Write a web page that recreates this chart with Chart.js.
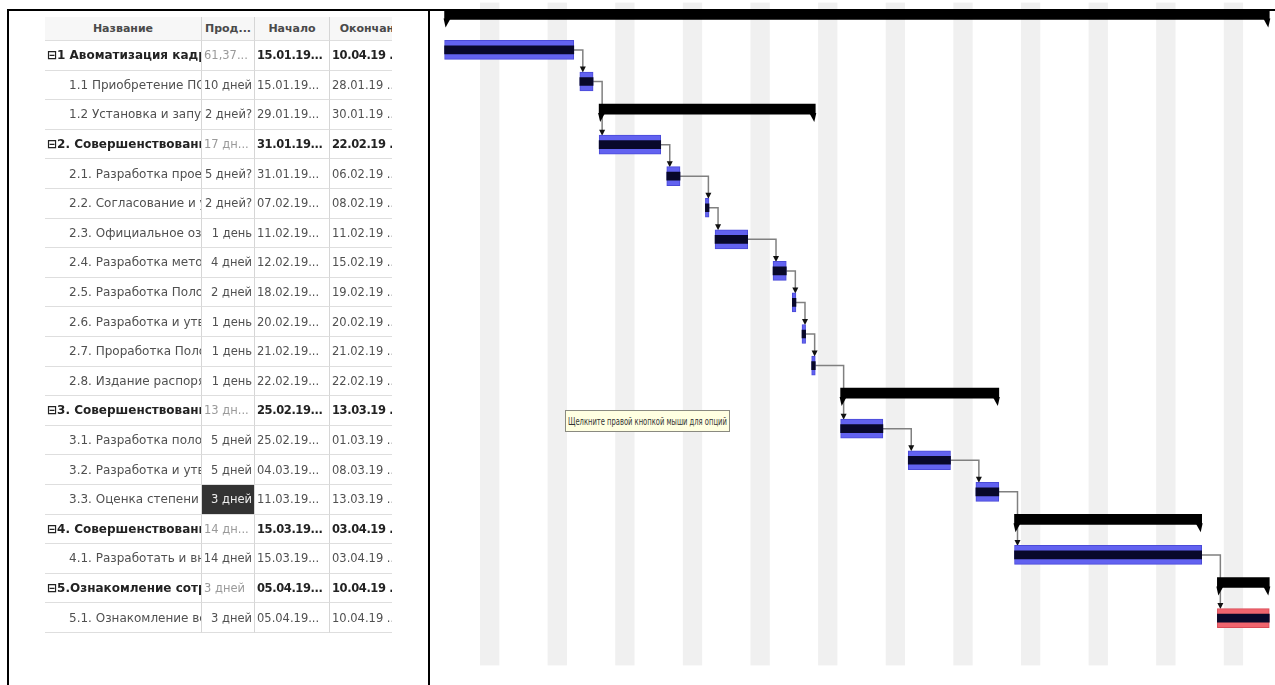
<!DOCTYPE html>
<html lang="ru">
<head>
<meta charset="utf-8">
<title>План работ</title>
<script src="https://cdn.jsdelivr.net/npm/chart.js@4.4.1/dist/chart.umd.min.js"></script>
<style>
  html, body { margin: 0; padding: 0; background: #fff; }
  body { width: 1275px; height: 685px; position: relative; overflow: hidden; font-family: "DejaVu Sans", sans-serif; }
  .rule { position: absolute; background: #000; z-index: 5; }
  #sheet {
    position: absolute; left: 45px; top: 17px; width: 347px; overflow: hidden;
    display: grid; grid-template-columns: 157px 53px 75px 90px;
    grid-template-rows: 24px repeat(20, 29.6px);
    font-size: 12px; color: #505050; filter: blur(0.35px);
  }
  #sheet div {
    box-sizing: border-box; white-space: nowrap; overflow: hidden;
    display: flex; align-items: center;
    border-bottom: 1px solid #dedede; border-right: 1px solid #d6d6d6;
    padding: 0 2px;
  }
  #sheet .head { font-weight: bold; font-size: 11px; color: #4a4a4a; justify-content: center; background: #f7f7f7; }
  #sheet .sum { font-weight: bold; color: #222; }
  #sheet .child { padding-left: 24px; }
  #sheet .num { font-size: 11.5px; }
  #sheet .num.sum { letter-spacing: -0.4px; }
  #sheet .dur { justify-content: flex-end; font-size: 11.5px; }
  #sheet .dur.sum { font-weight: normal; color: #9a9a9a; justify-content: flex-start; }
  #sheet .pick { background: #333; color: #eee; }
  #gantt { position: absolute; left: 430px; top: 0; width: 845px; height: 685px; }
  #hint {
    position: absolute; left: 565px; top: 410px; width: 165px; height: 22px; z-index: 4;
    background: #ffffe1; border: 1px solid #8a8a80; box-sizing: border-box;
    font-size: 10px; color: #333; white-space: nowrap; overflow: hidden;
    display: flex; align-items: center; padding-left: 2px;
  }
  #hint span { transform-origin: left center; display: inline-block; }
</style>
</head>
<body>
<div class="rule" style="left:7px; top:9px; width:1268px; height:2px;"></div>
<div class="rule" style="left:7px; top:9px; width:2px; height:676px;"></div>
<div class="rule" style="left:428px; top:9px; width:2px; height:676px;"></div>

<div id="sheet"></div>
<div id="gantt"><canvas id="ganttChart"></canvas></div>
<div id="hint"><span>Щелкните правой кнопкой мыши для опций</span></div>

<script>
// ===============================
// Task list
// ===============================

const columnTitles = ["Название", "Прод...", "Начало", "Окончание"];

const taskNames = [
  "1 Авоматизация кадрового учета",
  "1.1 Приобретение ПО \"1С:Зарплата\"",
  "1.2 Установка и запуск ПО",
  "2. Совершенствование документооборота",
  "2.1. Разработка проекта",
  "2.2. Согласование и утверждение",
  "2.3. Официальное ознакомление",
  "2.4. Разработка методики",
  "2.5. Разработка Положения",
  "2.6. Разработка и утверждение",
  "2.7. Проработка Положения",
  "2.8. Издание распоряжения",
  "3. Совершенствование системы оценки",
  "3.1. Разработка положения",
  "3.2. Разработка и утверждение",
  "3.3. Оценка степени",
  "4. Совершенствование обучения",
  "4.1. Разработать и внедрить",
  "5.Ознакомление  сотрудников",
  "5.1. Ознакомление всех",
];

const durations = [
  "61,37...", "10 дней", "2 дней?", "17 дн...", "5 дней?", "2 дней?", "1 день",
  "4 дней", "2 дней", "1 день", "1 день", "1 день", "13 дн...", "5 дней",
  "5 дней", "3 дней", "14 дн...", "14 дней", "3 дней", "3 дней",
];

const startDates = [
  "15.01.19", "15.01.19", "29.01.19", "31.01.19", "31.01.19", "07.02.19", "11.02.19",
  "12.02.19", "18.02.19", "20.02.19", "21.02.19", "22.02.19", "25.02.19", "25.02.19",
  "04.03.19", "11.03.19", "15.03.19", "15.03.19", "05.04.19", "05.04.19",
];

const endDates = [
  "10.04.19", "28.01.19", "30.01.19", "22.02.19", "06.02.19", "08.02.19", "11.02.19",
  "15.02.19", "19.02.19", "20.02.19", "21.02.19", "22.02.19", "13.03.19", "01.03.19",
  "08.03.19", "13.03.19", "03.04.19", "03.04.19", "10.04.19", "10.04.19",
];

// summary rows (phases)
const summaryRows = [0, 3, 12, 16, 18];

// finish-to-start links, by row
const links = [
  [1, 2], [2, 4], [4, 5], [5, 6], [6, 7], [7, 8], [8, 9], [9, 10], [10, 11],
  [11, 13], [13, 14], [14, 15], [15, 17], [17, 19],
];

const redRows = [19];
const pickedCell = 15; // selected duration cell

// ===============================
// Table
// ===============================

const sheet = document.getElementById("sheet");

function cell(text, cls) {
  const d = document.createElement("div");
  d.className = cls;
  d.textContent = text;
  sheet.appendChild(d);
}

columnTitles.forEach((t) => cell(t, "head"));

taskNames.forEach((name, i) => {
  const isSum = summaryRows.includes(i);
  const s = isSum ? " sum" : "";

  cell(isSum ? "⊟" + name : name, isSum ? "sum" : "child");
  cell(durations[i], "dur" + s + (i === pickedCell ? " pick" : ""));
  cell(startDates[i] + "...", "num" + s);
  cell(endDates[i] + " ...", "num" + s);
});

// squeeze hint text into its box
const hintSpan = document.querySelector("#hint span");
hintSpan.style.transform = `scaleX(${159 / hintSpan.offsetWidth})`;

// ===============================
// Gantt chart
// ===============================

const ORIGIN = Date.UTC(2019, 0, 14); // Monday
const WORK_START = 8 / 24;
const WORK_END = 17 / 24;
const VIEW_DAYS = 87.3;
const SUMMARY_LIFT = 4; // phase bars sit a bit above the row middle

function dayIndex(s) {
  const [d, m, y] = s.split(".").map(Number);

  return (Date.UTC(2000 + y, m - 1, d) - ORIGIN) / 864e5;
}

const ranges = taskNames.map((_, i) => [
  dayIndex(startDates[i]) + WORK_START,
  dayIndex(endDates[i]) + WORK_END,
]);

const taskData = ranges.map((r, i) => (summaryRows.includes(i) ? null : r));
const summaryData = ranges.map((r, i) => (summaryRows.includes(i) ? r : null));

// one empty row under the last task
const rowLabels = taskNames.concat([""]);

const weekendsAndLinks = {
  id: "weekendsAndLinks",

  beforeDatasetsDraw(chart) {
    const { ctx, chartArea } = chart;
    const x = chart.scales.x;
    const y = chart.scales.y;

    ctx.save();

    // Saturday + Sunday shading
    ctx.fillStyle = "#f0f0f0";

    for (let d = 5; d < x.max; d += 7) {
      const x0 = x.getPixelForValue(d);
      const x1 = x.getPixelForValue(d + 2);

      ctx.fillRect(x0, chartArea.top, x1 - x0, chartArea.bottom - chartArea.top);
    }

    // links
    links.forEach(([from, to]) => {
      const x0 = x.getPixelForValue(ranges[from][1]);
      const y0 = y.getPixelForValue(from);
      const x1 = x.getPixelForValue(ranges[to][0]) + 3;
      const y1 = y.getPixelForValue(to) - 9;

      ctx.strokeStyle = "#808080";
      ctx.lineWidth = 1.5;
      ctx.beginPath();
      ctx.moveTo(x0, y0);
      ctx.lineTo(x1, y0);
      ctx.lineTo(x1, y1 - 4);
      ctx.stroke();

      ctx.fillStyle = "#111";
      ctx.beginPath();
      ctx.moveTo(x1 - 3, y1 - 6);
      ctx.lineTo(x1 + 3, y1 - 6);
      ctx.lineTo(x1, y1);
      ctx.closePath();
      ctx.fill();
    });

    ctx.restore();
  },

  beforeDatasetDraw(chart, args) {
    if (args.index !== 0) return;

    chart.ctx.save();
    chart.ctx.translate(0, -SUMMARY_LIFT);
  },

  afterDatasetDraw(chart, args) {
    if (args.index !== 0) return;

    const { ctx } = chart;

    ctx.fillStyle = "#000";

    // phase bar end caps
    args.meta.data.forEach((bar, i) => {
      if (!summaryData[i]) return;

      const bottom = bar.y + bar.height / 2;
      const left = Math.min(bar.x, bar.base);
      const right = Math.max(bar.x, bar.base);

      ctx.beginPath();
      ctx.moveTo(left - 1, bottom - 1);
      ctx.lineTo(left + 6, bottom - 1);
      ctx.lineTo(left + 1, bottom + 8);
      ctx.closePath();
      ctx.fill();

      ctx.beginPath();
      ctx.moveTo(right + 1, bottom - 1);
      ctx.lineTo(right - 6, bottom - 1);
      ctx.lineTo(right - 1, bottom + 8);
      ctx.closePath();
      ctx.fill();
    });

    ctx.restore();
  },
};

new Chart(document.getElementById("ganttChart"), {
  type: "bar",

  data: {
    labels: rowLabels,

    datasets: [
      {
        label: "Фазы",
        data: summaryData,
        backgroundColor: "#000",
        barThickness: 10,
        grouped: false,
      },
      {
        label: "Выполнено",
        data: taskData,
        backgroundColor: "#08082a",
        barThickness: 8,
        grouped: false,
      },
      {
        label: "Задачи",
        data: taskData,
        backgroundColor: (c) => (redRows.includes(c.dataIndex) ? "#f0646e" : "#6262f0"),
        borderColor: (c) => (redRows.includes(c.dataIndex) ? "#d84a56" : "#4a4ad8"),
        borderWidth: 1,
        borderSkipped: false,
        barThickness: 19,
        grouped: false,
      },
    ],
  },

  options: {
    indexAxis: "y",
    responsive: true,
    maintainAspectRatio: false,
    animation: false,

    layout: {
      padding: { left: 1.7, right: 0, top: 2.6, bottom: 19.6 },
    },

    plugins: {
      legend: { display: false },
      tooltip: { enabled: false },
    },

    scales: {
      x: {
        type: "linear",
        min: 0,
        max: VIEW_DAYS,
        display: false,
      },

      y: {
        display: false,
      },
    },
  },

  plugins: [weekendsAndLinks],
});
</script>
</body>
</html>
